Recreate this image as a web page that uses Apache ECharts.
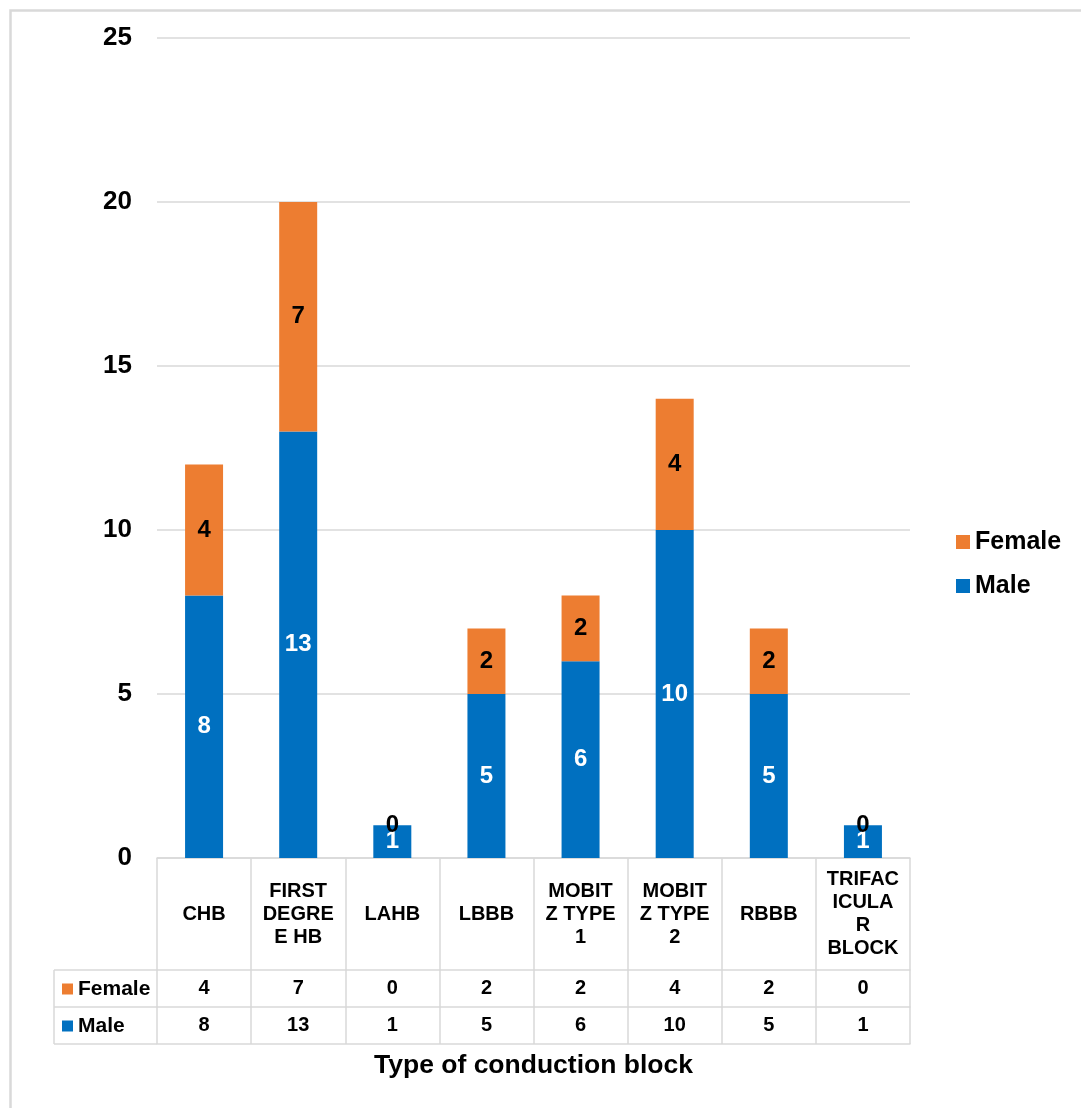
<!DOCTYPE html>
<html>
<head>
<meta charset="utf-8">
<script src="https://cdn.jsdelivr.net/npm/echarts@6/dist/echarts.min.js"></script>
<style>
html,body{margin:0;padding:0;background:#fff;}
#chart{width:1081px;height:1108px;}
</style>
</head>
<body>
<div id="chart"></div>
<script>
const categories = ["CHB", "FIRST\nDEGRE\nE HB", "LAHB", "LBBB", "MOBIT\nZ TYPE\n1", "MOBIT\nZ TYPE\n2", "RBBB", "TRIFAC\nICULA\nR\nBLOCK"];
const femaleValues = [4, 7, 0, 2, 2, 4, 2, 0];
const maleValues = [8, 13, 1, 5, 6, 10, 5, 1];
const yTicks = [0, 5, 10, 15, 20, 25];
const seriesNames = ["Female", "Male"];
const xTitle = "Type of conduction block";

const FONT = "'Liberation Sans', Arial, sans-serif";
const GRID_COLOR = "#d9d9d9";
const ORANGE = "#ED7D31";
const BLUE = "#0070C0";
const G = {left: 157, right: 171, top: 38, bottom: 250};
const plotBottom = 1108 - G.bottom; // 858
const catRowH = 112, rowH = 37;
const tableLeft = 54;

const chart = echarts.init(document.getElementById('chart'));
const lineStyle = {color: GRID_COLOR, width: 1.5};

chart.setOption({
  animation: false,
  textStyle: {fontFamily: FONT},
  grid: G,
  legend: [
    {
      data: seriesNames,
      orient: 'vertical',
      icon: 'rect',
      left: 951, top: 523,
      itemWidth: 14, itemHeight: 14,
      itemGap: 16,
      textStyle: {fontFamily: FONT, fontSize: 25, fontWeight: 'bold', color: '#000', lineHeight: 28},
      selectedMode: false
    },
    {
      data: seriesNames,
      orient: 'vertical',
      icon: 'rect',
      left: 57, top: 972,
      itemWidth: 11, itemHeight: 11,
      itemGap: 13,
      textStyle: {fontFamily: FONT, fontSize: 21, fontWeight: 'bold', color: '#000', lineHeight: 24},
      selectedMode: false
    }
  ],
  xAxis: [
    {
      type: 'category', data: categories, position: 'bottom',
      axisLine: {show: true, lineStyle: lineStyle},
      axisTick: {show: true, interval: 0, length: catRowH + 2 * rowH, lineStyle: lineStyle},
      axisLabel: {interval: 0, margin: catRowH / 2, verticalAlign: 'middle', align: 'center',
        fontFamily: FONT, fontSize: 20, fontWeight: 'bold', color: '#000', lineHeight: 23}
    },
    {
      type: 'category', data: femaleValues.map(String), position: 'bottom', offset: catRowH,
      axisLine: {show: true, lineStyle: lineStyle},
      axisTick: {show: false},
      axisLabel: {interval: 0, margin: rowH / 2, verticalAlign: 'middle',
        fontFamily: FONT, fontSize: 20, fontWeight: 'bold', color: '#000'}
    },
    {
      type: 'category', data: maleValues.map(String), position: 'bottom', offset: catRowH + rowH,
      axisLine: {show: true, lineStyle: lineStyle},
      axisTick: {show: false},
      axisLabel: {interval: 0, margin: rowH / 2, verticalAlign: 'middle',
        fontFamily: FONT, fontSize: 20, fontWeight: 'bold', color: '#000'}
    },
    {
      type: 'category', data: categories.map(() => ''), position: 'bottom', offset: catRowH + 2 * rowH,
      axisLine: {show: true, lineStyle: lineStyle},
      axisTick: {show: false},
      axisLabel: {show: false},
      name: xTitle, nameLocation: 'middle', nameGap: 8,
      nameTextStyle: {fontFamily: FONT, fontSize: 26.5, fontWeight: 'bold', color: '#000', verticalAlign: 'top'}
    }
  ],
  yAxis: {
    type: 'value', min: yTicks[0], max: yTicks[yTicks.length - 1], interval: yTicks[1] - yTicks[0],
    axisLine: {show: false}, axisTick: {show: false},
    splitLine: {show: true, lineStyle: lineStyle},
    axisLabel: {margin: 25, fontFamily: FONT, fontSize: 26, fontWeight: 'bold', color: '#000'}
  },
  series: [
    {
      name: seriesNames[1], type: 'bar', stack: 'total', data: maleValues,
      barWidth: 38, itemStyle: {color: BLUE},
      label: {show: true, position: 'inside', color: '#fff', fontFamily: FONT, fontSize: 24, fontWeight: 'bold'}
    },
    {
      name: seriesNames[0], type: 'bar', stack: 'total', data: femaleValues,
      barWidth: 38, itemStyle: {color: ORANGE},
      label: {show: true, position: 'inside', color: '#000', fontFamily: FONT, fontSize: 24, fontWeight: 'bold'}
    }
  ],
  graphic: [
    {type: 'rect', left: 8, top: 8, shape: {width: 1200, height: 1200}, style: {fill: 'none', stroke: GRID_COLOR, lineWidth: 2.5}, silent: true, z: -1},
    {type: 'line', shape: {x1: tableLeft, y1: plotBottom + catRowH, x2: G.left, y2: plotBottom + catRowH}, style: {stroke: GRID_COLOR, lineWidth: 1.5}},
    {type: 'line', shape: {x1: tableLeft, y1: plotBottom + catRowH + rowH, x2: G.left, y2: plotBottom + catRowH + rowH}, style: {stroke: GRID_COLOR, lineWidth: 1.5}},
    {type: 'line', shape: {x1: tableLeft, y1: plotBottom + catRowH + 2 * rowH, x2: G.left, y2: plotBottom + catRowH + 2 * rowH}, style: {stroke: GRID_COLOR, lineWidth: 1.5}},
    {type: 'line', shape: {x1: tableLeft, y1: plotBottom + catRowH, x2: tableLeft, y2: plotBottom + catRowH + 2 * rowH}, style: {stroke: GRID_COLOR, lineWidth: 1.5}}
  ]
});
</script>
</body>
</html>
